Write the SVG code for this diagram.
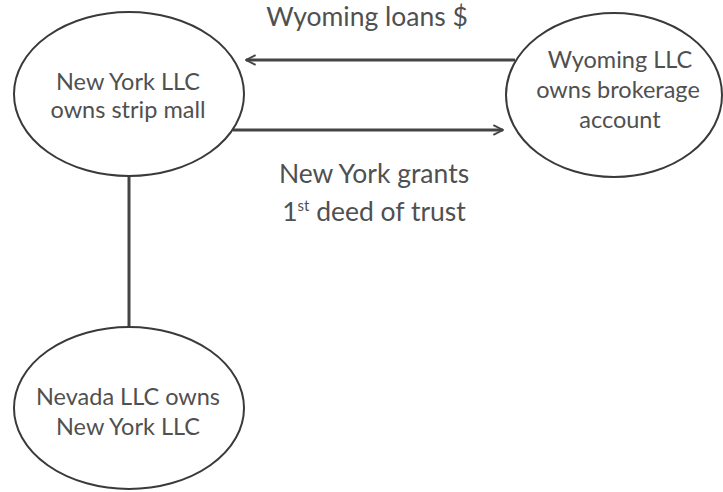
<svg xmlns="http://www.w3.org/2000/svg" width="723" height="492" viewBox="0 0 723 492">
  <style>
    .node { fill: #ffffff; stroke: #3a3a3a; stroke-width: 2; }
    .label { font-family: Lato, "Open Sans", "Liberation Sans", sans-serif; font-size: 23.5px; fill: #505050; text-anchor: middle; }
    .edge-label { font-size: 26.5px; }
    .edge { stroke: #444444; stroke-width: 3; fill: none; }
  </style>
  <defs>
    <marker id="arrow" viewBox="0 0 10 10" refX="9" refY="5" markerWidth="4" markerHeight="4" orient="auto" markerUnits="strokeWidth">
      <path d="M1,1 L9,5 L1,9" fill="none" stroke="#444444" stroke-width="1.6"/>
    </marker>
  </defs>
  <rect width="723" height="492" fill="#ffffff"/>

  <g id="connectors">
    <line class="edge" x1="515" y1="60" x2="246" y2="60" marker-end="url(#arrow)"/>
    <line class="edge" x1="233" y1="130" x2="503" y2="130" marker-end="url(#arrow)"/>
    <line class="edge" x1="129" y1="176" x2="129" y2="327"/>
    <text class="label edge-label" x="367" y="26">Wyoming loans $</text>
    <text class="label edge-label" x="374" y="183">New York grants</text>
    <text class="label edge-label" x="374" y="221">1<tspan font-size="15" dy="-10">st</tspan><tspan dy="10"> deed of trust</tspan></text>
  </g>

  <g id="node-newyork">
    <ellipse class="node" cx="129" cy="94" rx="115" ry="82"/>
    <text class="label" x="128" y="90">New York LLC</text>
    <text class="label" x="128" y="118">owns strip mall</text>
  </g>

  <g id="node-wyoming">
    <ellipse class="node" cx="614" cy="95" rx="108" ry="82"/>
    <text class="label" x="620" y="68">Wyoming LLC</text>
    <text class="label" x="618" y="98">owns brokerage</text>
    <text class="label" x="620" y="128">account</text>
  </g>

  <g id="node-nevada">
    <ellipse class="node" cx="129" cy="408" rx="115" ry="81"/>
    <text class="label" x="128" y="405">Nevada LLC owns</text>
    <text class="label" x="128" y="435">New York LLC</text>
  </g>
</svg>
